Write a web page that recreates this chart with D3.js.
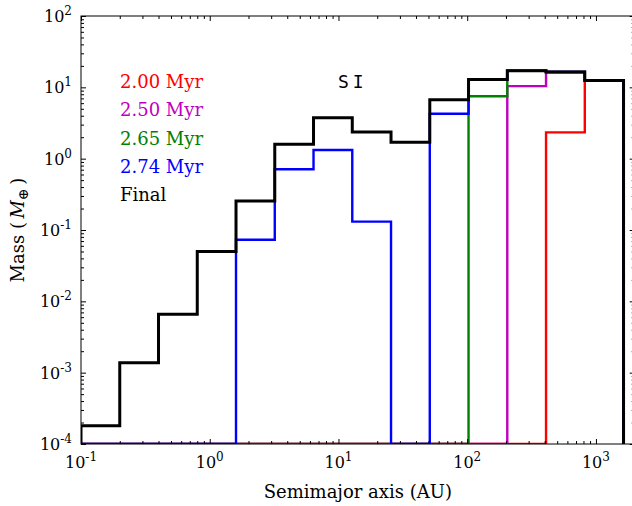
<!DOCTYPE html>
<html><head><meta charset="utf-8">
<script src="https://cdn.jsdelivr.net/npm/d3@7"></script>
<style>body{margin:0;background:#fff}svg{display:block}</style>
</head><body>
<script>
// ---- data ----
const binEdges = [0.1,0.2,0.4,0.8,1.6,3.2,6.4,12.8,25.6,51.2,102.4,204.8,409.6,819.2,1638.4];
const mass200 = [0,0,0,0,0,0,0,0,0,0,0,0,2.34,12.5];
const mass250 = [0,0,0,0,0,0,0,0,0,0,0,10.4,16.4,12.5];
const mass265 = [0,0,0,0,0,0,0,0,0,0,7.49,17.1,16.4,12.5];
const mass274 = [0,0,0,0,0.073,0.71,1.32,0.131,0,4.27,12.9,17.1,16.4,12.5];
const massFinal = [1.8e-4,1.38e-3,6.6e-3,0.050,0.255,1.59,3.76,2.37,1.70,6.71,12.9,17.1,16.4,12.5];
const seriesNames = ["2.00 Myr","2.50 Myr","2.65 Myr","2.74 Myr","Final"];
const seriesColors = ["#ff0000","#bf00bf","#008000","#0000ff","#000000"];
const seriesData = [mass200, mass250, mass265, mass274, massFinal];
const xTickExps = [-1,0,1,2,3];
const yTickExps = [-4,-3,-2,-1,0,1,2];
const xDomain = [0.1, 2000];
const yDomain = [1e-4, 1e2];

const W = 632, H = 506;
const L = 81, T = 16, R = 634.7, B = 444;

const svg = d3.select("body").append("svg").attr("width", W).attr("height", H);
const x = d3.scaleLog().domain(xDomain).range([L, R]);
const y = d3.scaleLog().domain(yDomain).range([B, T]);

svg.append("defs").append("clipPath").attr("id","clip")
  .append("rect").attr("x",L).attr("y",T).attr("width",R-L).attr("height",B-T);

// histograms
function stepPoints(vals){
  const pts = [[binEdges[0], yDomain[0]]];
  vals.forEach((v,i)=>{
    const vv = Math.max(v, yDomain[0]);
    pts.push([binEdges[i], vv]); pts.push([binEdges[i+1], vv]);
  });
  pts.push([binEdges[binEdges.length-1], yDomain[0]]);
  return pts;
}
const line = d3.line().x(d=>x(d[0])).y(d=>y(d[1]));
const g = svg.append("g").attr("clip-path","url(#clip)");
seriesData.forEach((vals,i)=>{
  g.append("path").attr("d", line(stepPoints(vals)))
   .attr("fill","none").attr("stroke", seriesColors[i])
   .attr("stroke-width", i===4 ? 3 : 2.4).attr("stroke-linejoin","miter");
});

// ticks
const xMajor = xTickExps.map(e=>Math.pow(10,e));
const yMajor = yTickExps.map(e=>Math.pow(10,e));
const xMinor = [], yMinor = [];
for (let e=-1;e<=3;e++) for (let k=2;k<=9;k++){ const v=k*Math.pow(10,e); if(v<=xDomain[1]) xMinor.push(v); }
for (let e=-4;e<=1;e++) for (let k=2;k<=9;k++) yMinor.push(k*Math.pow(10,e));

function tickAxis(axisFn, scale, vals, size, tr){
  const a = svg.append("g").attr("transform", tr)
    .call(axisFn(scale).tickValues(vals).tickSize(size).tickFormat(""));
  a.select(".domain").remove();
  a.selectAll("line").attr("stroke","#000").attr("stroke-width",1);
  return a;
}
tickAxis(d3.axisBottom, x, xMajor, -5, `translate(0,${B})`);
tickAxis(d3.axisBottom, x, xMinor, -3, `translate(0,${B})`);
tickAxis(d3.axisTop, x, xMajor, -5, `translate(0,${T})`);
tickAxis(d3.axisTop, x, xMinor, -3, `translate(0,${T})`);
tickAxis(d3.axisLeft, y, yMajor, -5, `translate(${L},0)`);
tickAxis(d3.axisLeft, y, yMinor, -3, `translate(${L},0)`);
tickAxis(d3.axisRight, y, yMajor, -5, `translate(${R},0)`);
tickAxis(d3.axisRight, y, yMinor, -3, `translate(${R},0)`);

// spines
svg.append("rect").attr("x",L).attr("y",T).attr("width",R-L).attr("height",B-T)
  .attr("fill","none").attr("stroke","#000").attr("stroke-width",1);

const serif = "'DejaVu Serif', serif";
// tick labels
function powLabel(sel, e){
  sel.append("tspan").text("10");
  sel.append("tspan").attr("dy",-7).attr("font-size",12).text(e<0 ? "-"+(-e) : ""+e);
}
xTickExps.forEach(e=>{
  const t = svg.append("text").attr("x", x(Math.pow(10,e))).attr("y", 468)
    .attr("text-anchor","middle").attr("font-family",serif).attr("font-size",16).attr("fill","#000");
  powLabel(t,e);
});
yTickExps.forEach(e=>{
  const t = svg.append("text").attr("x", 72).attr("y", y(Math.pow(10,e))+6)
    .attr("text-anchor","end").attr("font-family",serif).attr("font-size",16).attr("fill","#000");
  powLabel(t,e);
});

// axis labels
svg.append("text").attr("x",(L+R)/2).attr("y",498).attr("text-anchor","middle")
  .attr("font-family",serif).attr("font-size",18).text("Semimajor axis (AU)");
const yl = svg.append("text").attr("transform",`translate(24,${(T+B)/2}) rotate(-90)`)
  .attr("text-anchor","middle").attr("font-family",serif).attr("font-size",18);
yl.append("tspan").text("Mass (\u2009");
yl.append("tspan").attr("font-style","italic").text("M");
yl.append("tspan").attr("font-size",14).attr("dy",4).text("\u2295");
yl.append("tspan").attr("dy",-4).text("\u2009)");

// legend
seriesNames.forEach((n,i)=>{
  svg.append("text").attr("x",120).attr("y",88+i*28.3)
    .attr("font-family",serif).attr("font-size",18).attr("fill",seriesColors[i]).text(n);
});

// annotation
svg.append("text").attr("x",338).attr("y",88).attr("font-family","'DejaVu Sans Mono', monospace")
  .attr("font-size",18).attr("letter-spacing",4).text("SI");
</script>
</body></html>
